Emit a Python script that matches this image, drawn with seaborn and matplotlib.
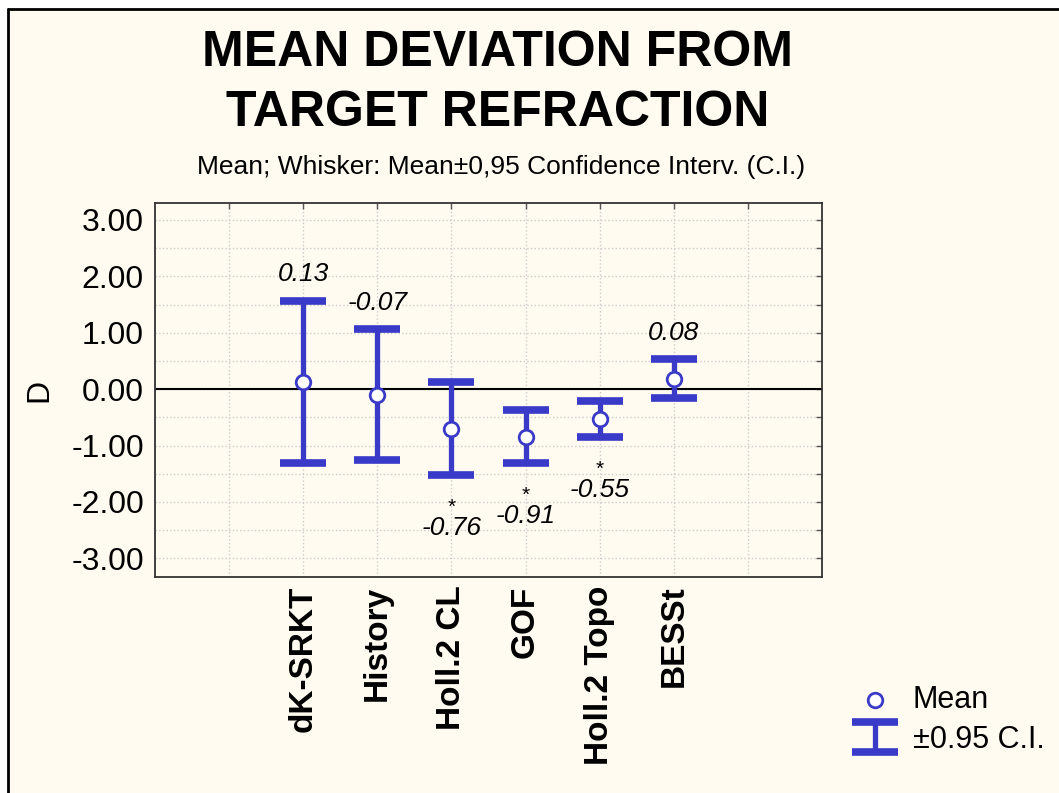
import numpy as np
import matplotlib
matplotlib.use("Agg")
import matplotlib.pyplot as plt
import seaborn as sns
from matplotlib.patches import Rectangle
from matplotlib.ticker import MultipleLocator, FixedLocator

# Summary values
methods = ["dK-SRKT", "History", "Holl.2 CL", "GOF", "Holl.2 Topo", "BESSt"]
means = [0.13, -0.10, -0.70, -0.84, -0.53, 0.18]
ci_low = [-1.31, -1.26, -1.52, -1.31, -0.85, -0.16]
ci_high = [1.57, 1.06, 0.13, -0.37, -0.21, 0.53]
value_labels = ["0.13", "-0.07", "-0.76", "-0.91", "-0.55", "0.08"]
label_above = [True, True, False, False, False, True]
stars = ["", "", "*", "*", "*", ""]

blue = "#3a3ac8"
cream = "#fffbf0"

sns.set_theme(style="white")
plt.rcParams["font.family"] = ["Liberation Sans", "DejaVu Sans"]
plt.rcParams.update({"text.color": "black", "axes.labelcolor": "black",
                     "xtick.color": "black", "ytick.color": "black"})

fig = plt.figure(figsize=(10.59, 7.93), dpi=100)
fig.patch.set_facecolor("white")
W, H = 1059, 793
# cream panel with dark border on top/left
fig.patches.append(Rectangle((8 / W, 0), 1.2, 1 - 9 / H, transform=fig.transFigure,
                             facecolor=cream, edgecolor="none", zorder=-5))
fig.lines.append(plt.Line2D([8 / W, 1], [1 - 9 / H, 1 - 9 / H], transform=fig.transFigure,
                            color="black", lw=2))
fig.lines.append(plt.Line2D([8 / W, 8 / W], [0, 1 - 9 / H], transform=fig.transFigure,
                            color="black", lw=2))

ax = fig.add_axes([155 / W, 1 - 577 / H, (822 - 155) / W, (577 - 203) / H])
ax.set_facecolor(cream)

x = np.arange(len(methods))
means_a = np.array(means)
yerr = [means_a - np.array(ci_low), np.array(ci_high) - means_a]

ax.axhline(0, color="black", lw=1.5, zorder=2)
eb = ax.errorbar(x, means, yerr=yerr, fmt="none", ecolor=blue, elinewidth=3.8,
                 capsize=16.5, capthick=5.5, zorder=3, label="±0.95 C.I.")
sns.scatterplot(x=x, y=means, ax=ax, s=110, color="white", edgecolor=blue,
                linewidth=2, zorder=4, label="Mean")

# value annotations
for i, (lab, up, st) in enumerate(zip(value_labels, label_above, stars)):
    if up:
        ax.annotate(lab, (i, ci_high[i]), xytext=(0, 19), textcoords="offset points",
                    ha="center", va="center", fontsize=19, style="italic")
    else:
        ax.annotate(st, (i, ci_low[i]), xytext=(0, -23), textcoords="offset points",
                    ha="center", va="center", fontsize=15)
        ax.annotate(lab, (i, ci_low[i]), xytext=(0, -38), textcoords="offset points",
                    ha="center", va="center", fontsize=19, style="italic")

ax.set_xlim(-2, 7)
ax.xaxis.set_major_locator(FixedLocator(range(-1, 7)))
ax.set_xticklabels([""] + methods + [""], rotation=90, fontsize=24, fontweight="bold")
ax.yaxis.set_major_locator(MultipleLocator(1))
ax.yaxis.set_minor_locator(MultipleLocator(0.5))
ax.set_ylim(-3.33, 3.3)
ax.set_yticks(range(-3, 4))
ax.set_yticklabels([f"{v:.2f}" for v in range(-3, 4)], fontsize=23)
ax.set_ylim(-3.33, 3.3)
ax.tick_params(axis="both", which="both", direction="in", top=True, right=True,
               length=4, color="#555555", width=1)
ax.tick_params(axis="y", pad=8)
ax.tick_params(axis="x", pad=6)
ax.grid(True, which="major", axis="x", color="#cccccc", ls=":", lw=1)
ax.grid(True, which="both", axis="y", color="#cccccc", ls=":", lw=1)
for s in ax.spines.values():
    s.set_color("#333333")
    s.set_linewidth(1.3)
ax.set_xlabel("")
ax.set_ylabel("D", fontsize=23, labelpad=12)

handles, labels = ax.get_legend_handles_labels()
order = [labels.index("Mean"), labels.index("±0.95 C.I.")]
leg = ax.legend([handles[k] for k in order], [labels[k] for k in order],
                loc="center left", bbox_to_anchor=(818 / W, 1 - 720 / H),
                bbox_transform=fig.transFigure, frameon=False, fontsize=22,
                handlelength=1.9, handletextpad=0.3, labelspacing=0.3)

fig.text(498 / W, 1 - 53 / H, "MEAN DEVIATION FROM", ha="center", va="center",
         fontsize=36, fontweight="bold")
fig.text(498 / W, 1 - 113 / H, "TARGET REFRACTION", ha="center", va="center",
         fontsize=36, fontweight="bold")
fig.text(501 / W, 1 - 167 / H, "Mean; Whisker: Mean±0,95 Confidence Interv. (C.I.)",
         ha="center", va="center", fontsize=19)

fig.savefig("out.png", dpi=100, facecolor=fig.get_facecolor())
